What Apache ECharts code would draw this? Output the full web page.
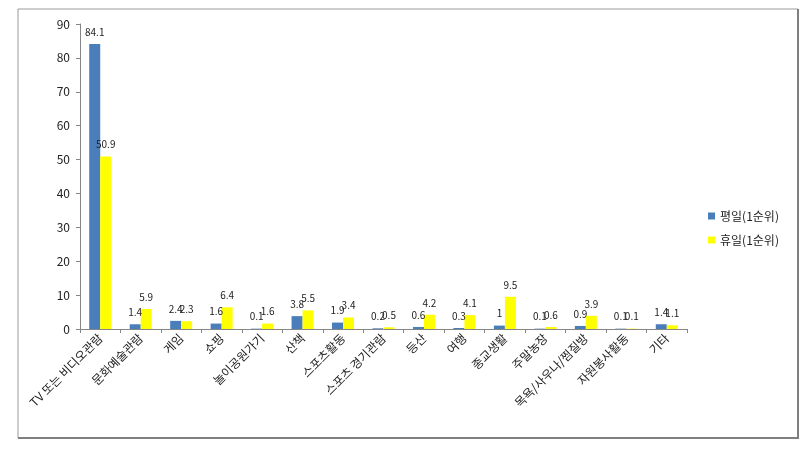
<!DOCTYPE html>
<html><head><meta charset="utf-8">
<script src="https://cdn.jsdelivr.net/npm/echarts@6/dist/echarts.min.js"></script>
<style>html,body{margin:0;padding:0;background:#fff}#c{width:812px;height:452px}</style>
</head><body><div id="c"></div>
<script>
const categories = ['TV 또는 비디오관람','문화예술관람','게임','쇼핑','놀이공원가기','산책','스포츠활동','스포츠 경기관람','등산','여행','종교생활','주말농장','목욕/사우나/찜질방','자원봉사활동','기타'];
const weekday = [84.1,1.4,2.4,1.6,0.1,3.8,1.9,0.2,0.6,0.3,1,0.1,0.9,0.1,1.4];
const holiday = [50.9,5.9,2.3,6.4,1.6,5.5,3.4,0.5,4.2,4.1,9.5,0.6,3.9,0.1,1.1];
const seriesNames = ['평일(1순위)','휴일(1순위)'];
const yTicks = {min:0,max:90,interval:10};

const font = "'Noto Sans CJK KR', 'Noto Sans', sans-serif";
const chart = echarts.init(document.getElementById('c'));
chart.setOption({
  animation:false,
  textStyle:{fontFamily:font},
  graphic:[
    {type:'rect',shape:{x:18,y:9,width:780,height:429},style:{fill:'none',stroke:'#9a9a9a',lineWidth:1},z:-1},
    {type:'polyline',shape:{points:[[798,9],[798,438],[18,438]]},style:{fill:'none',stroke:'#7f7f7f',lineWidth:2},z:-1}
  ],
  grid:{left:80,top:24,right:125,bottom:123,containLabel:false},
  legend:{
    orient:'vertical',left:703,top:205,itemWidth:7,itemHeight:7,itemGap:12,
    icon:'rect',textStyle:{fontSize:12,color:'#222',fontFamily:font},
    data:seriesNames
  },
  xAxis:{
    type:'category',data:categories,
    axisLine:{lineStyle:{color:'#868686'}},
    axisTick:{show:true,length:4,lineStyle:{color:'#868686'}},
    axisLabel:{rotate:45,fontSize:12,color:'#222',interval:0,margin:7,fontFamily:font}
  },
  yAxis:{
    type:'value',min:yTicks.min,max:yTicks.max,interval:yTicks.interval,
    splitLine:{show:false},
    axisLine:{show:true,lineStyle:{color:'#868686'}},
    axisTick:{show:true,length:4,lineStyle:{color:'#868686'}},
    axisLabel:{fontSize:12,color:'#222',margin:10,fontFamily:font}
  },
  series:[
    {name:seriesNames[0],type:'bar',data:weekday,barWidth:11,barGap:'0%',
     itemStyle:{color:'#4a7ebb'},
     label:{show:true,position:'top',fontSize:10,color:'#222',distance:7,fontFamily:font}},
    {name:seriesNames[1],type:'bar',data:holiday,barWidth:11,
     itemStyle:{color:'#ffff00'},
     label:{show:true,position:'top',fontSize:10,color:'#222',distance:7,fontFamily:font}}
  ]
});
</script></body></html>
